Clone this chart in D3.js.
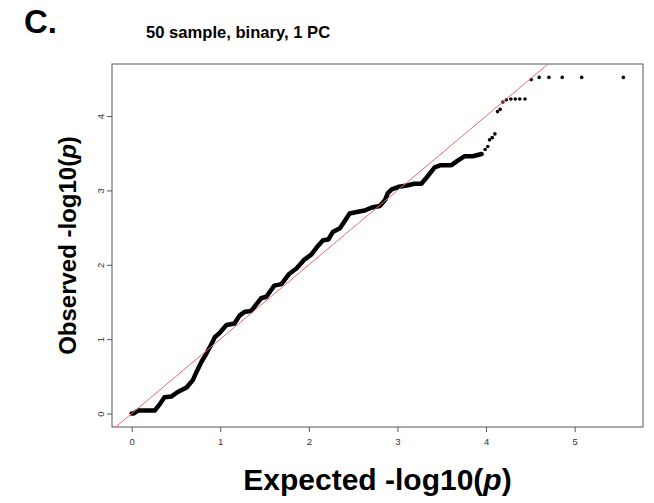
<!DOCTYPE html>
<html>
<head>
<meta charset="utf-8">
<script src="https://cdn.jsdelivr.net/npm/d3@7"></script>
<style>
  body { margin: 0; background: #fff; }
  text { font-family: "Liberation Sans", Arial, sans-serif; }
</style>
</head>
<body>
<div id="chart"></div>
<script>
// QQ data (expected vs observed -log10 p)
var denseExpected = [0.0, 0.02, 0.07, 0.26, 0.32, 0.37, 0.45, 0.52, 0.62, 0.69, 0.74, 0.79, 0.84, 0.89, 0.94, 0.99,
  1.07, 1.16, 1.22, 1.28, 1.35, 1.46, 1.52, 1.61, 1.69, 1.78, 1.86, 1.95, 2.03, 2.10, 2.16, 2.22, 2.27, 2.35,
  2.40, 2.46, 2.54, 2.63, 2.71, 2.80, 2.86, 2.89, 2.93, 3.02, 3.12, 3.19, 3.27, 3.32, 3.42, 3.49, 3.61, 3.68,
  3.76, 3.85, 3.95];
var denseObserved = [0.0, 0.0, 0.04, 0.04, 0.13, 0.22, 0.23, 0.29, 0.35, 0.45, 0.58, 0.70, 0.80, 0.91, 1.03, 1.08,
  1.19, 1.21, 1.32, 1.37, 1.38, 1.55, 1.57, 1.72, 1.74, 1.88, 1.95, 2.07, 2.14, 2.25, 2.33, 2.34, 2.44, 2.49,
  2.58, 2.69, 2.71, 2.73, 2.77, 2.79, 2.87, 2.96, 3.01, 3.05, 3.07, 3.09, 3.09, 3.16, 3.31, 3.34, 3.34, 3.40,
  3.46, 3.46, 3.49];
var tailExpected = [3.99, 4.02, 4.04, 4.07, 4.10, 4.13, 4.16, 4.19, 4.23, 4.28, 4.33, 4.38, 4.44,
  4.51, 4.60, 4.71, 4.86, 5.08, 5.55];
var tailObserved = [3.55, 3.59, 3.68, 3.71, 3.76, 4.06, 4.09, 4.19, 4.22, 4.23, 4.23, 4.23, 4.23,
  4.49, 4.52, 4.52, 4.52, 4.52, 4.52];
var xTicks = [0, 1, 2, 3, 4, 5];
var yTicks = [0, 1, 2, 3, 4];

var svgWidth = 654;
var svgHeight = 503;

var margin = { top: 64, right: 11, bottom: 76, left: 112 };
var width = svgWidth - margin.left - margin.right;
var height = svgHeight - margin.top - margin.bottom;

var svg = d3.select("#chart")
  .append("svg")
  .attr("width", svgWidth)
  .attr("height", svgHeight);

var chartGroup = svg.append("g")
  .attr("transform", `translate(${margin.left}, ${margin.top})`);

// Scales (R style 4% padding)
var xScale = d3.scaleLinear()
  .domain([-0.222, 5.772])
  .range([0, width]);
var yScale = d3.scaleLinear()
  .domain([-0.181, 4.70])
  .range([height, 0]);

svg.append("defs").append("clipPath")
  .attr("id", "plotClip")
  .append("rect")
  .attr("width", width)
  .attr("height", height);

// Axes
var bottomAxis = d3.axisBottom(xScale).tickValues(xTicks).tickFormat(d3.format("d")).tickSize(5).tickPadding(6);
var leftAxis = d3.axisLeft(yScale).tickValues(yTicks).tickFormat(d3.format("d")).tickSize(5).tickPadding(6);

var xAxis = chartGroup.append("g")
  .attr("transform", `translate(0, ${height})`)
  .call(bottomAxis);
var yAxis = chartGroup.append("g")
  .call(leftAxis);

[xAxis, yAxis].forEach((ax) => {
  ax.select(".domain").remove();
  ax.selectAll("line").attr("stroke", "#555");
  ax.selectAll("text")
    .attr("fill", "#333")
    .style("font-size", "9.5px")
    .style("font-family", "'Liberation Sans', Arial, sans-serif");
});

// y tick labels run parallel to the axis
yAxis.selectAll("text")
  .attr("x", null)
  .attr("dy", null)
  .attr("text-anchor", "middle")
  .attr("transform", "translate(-8, 0) rotate(-90)");

// Plot box
chartGroup.append("rect")
  .attr("width", width)
  .attr("height", height)
  .attr("fill", "none")
  .attr("stroke", "#555")
  .attr("stroke-width", 1);

// Dense part of the QQ points
var densePoints = denseExpected.map((d, i) => [d, denseObserved[i]]);
var line = d3.line()
  .x(d => xScale(d[0]))
  .y(d => yScale(d[1]));

chartGroup.append("path")
  .datum(densePoints)
  .attr("d", line)
  .attr("fill", "none")
  .attr("stroke", "#000")
  .attr("stroke-width", 4.5)
  .attr("stroke-linejoin", "round")
  .attr("stroke-linecap", "round");

// Sparse tail points
var tailPoints = tailExpected.map((d, i) => [d, tailObserved[i]]);
chartGroup.selectAll("circle.tail")
  .data(tailPoints)
  .enter()
  .append("circle")
  .attr("class", "tail")
  .attr("cx", d => xScale(d[0]))
  .attr("cy", d => yScale(d[1]))
  .attr("r", 1.8)
  .attr("fill", "#000");

// y = x reference line
chartGroup.append("line")
  .attr("clip-path", "url(#plotClip)")
  .attr("x1", xScale(-0.3))
  .attr("y1", yScale(-0.3))
  .attr("x2", xScale(5))
  .attr("y2", yScale(5))
  .attr("stroke", "#ee6a6a")
  .attr("stroke-width", 1);

// Titles
svg.append("text")
  .attr("x", 24)
  .attr("y", 33)
  .style("font-size", "33px")
  .style("font-weight", "bold")
  .text("C.");

svg.append("text")
  .attr("x", 146)
  .attr("y", 38)
  .style("font-size", "16.6px")
  .style("font-weight", "bold")
  .text("50 sample, binary, 1 PC");

var xLabel = svg.append("text")
  .attr("x", margin.left + width / 2)
  .attr("y", 490)
  .attr("text-anchor", "middle")
  .style("font-size", "30px")
  .style("font-weight", "bold");
xLabel.append("tspan").text("Expected -log10(");
xLabel.append("tspan").style("font-style", "italic").text("p");
xLabel.append("tspan").text(")");

var yLabel = svg.append("text")
  .attr("transform", `translate(76, ${margin.top + height / 2}) rotate(-90)`)
  .attr("text-anchor", "middle")
  .style("font-size", "24px")
  .style("font-weight", "bold");
yLabel.append("tspan").text("Observed -log10(");
yLabel.append("tspan").style("font-style", "italic").text("p");
yLabel.append("tspan").text(")");
</script>
</body>
</html>
